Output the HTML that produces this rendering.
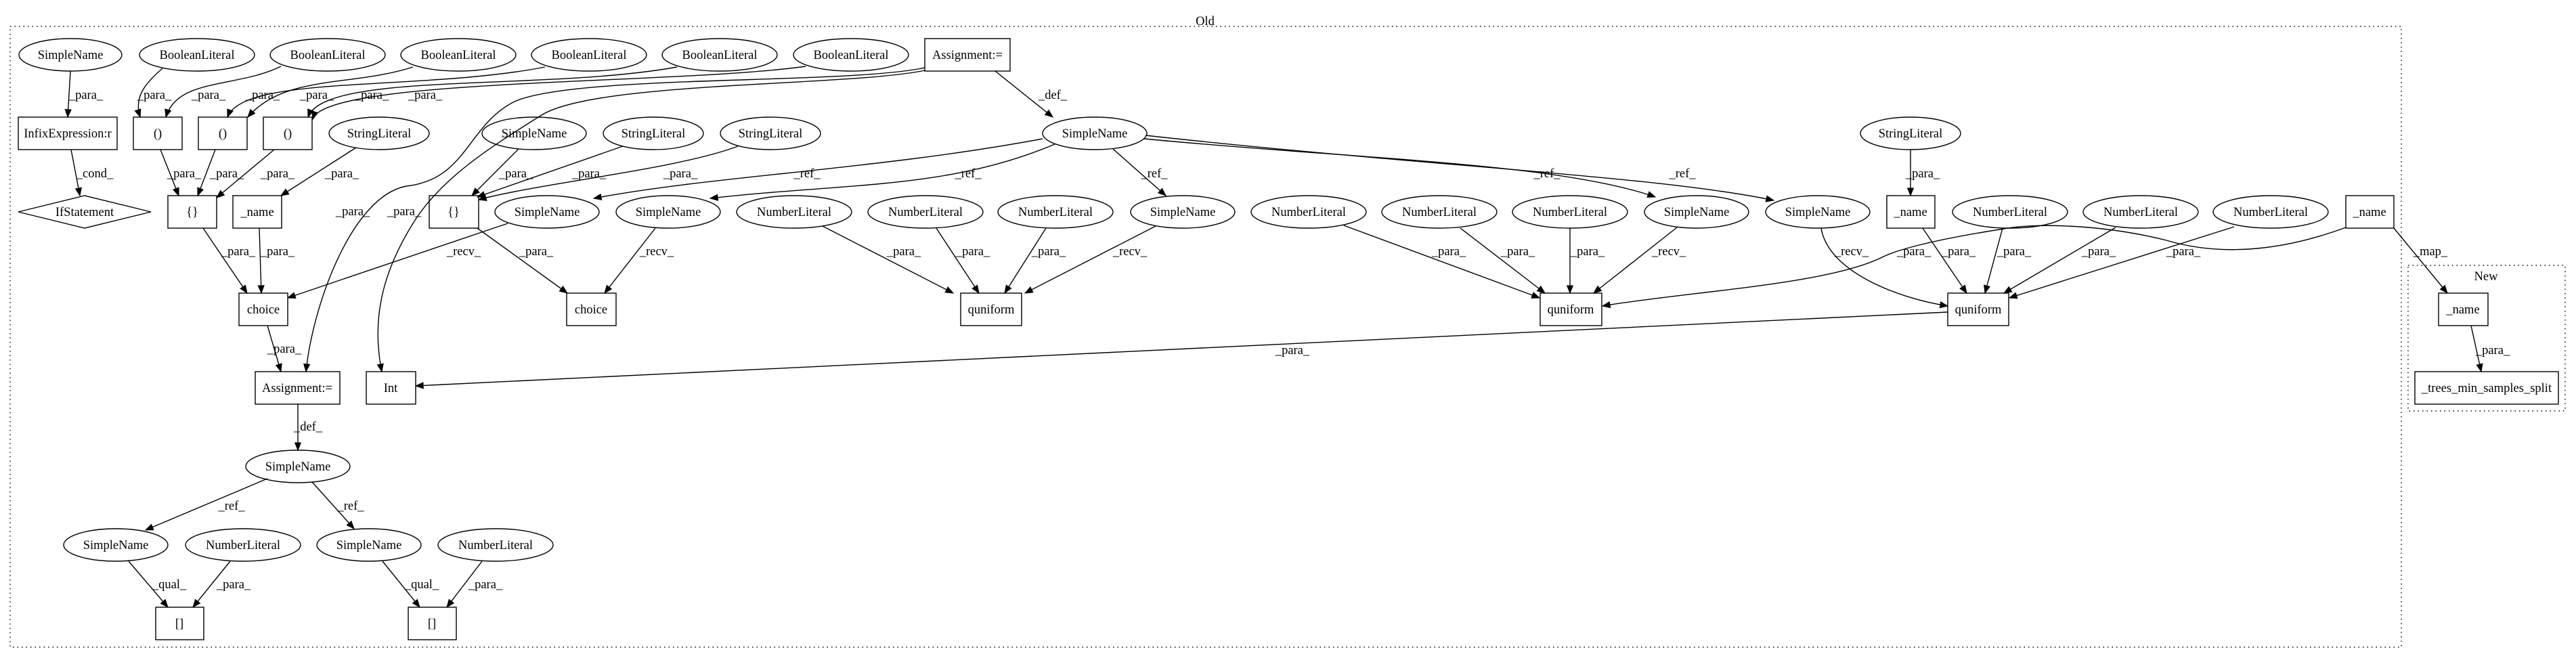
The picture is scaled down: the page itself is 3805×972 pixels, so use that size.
<!DOCTYPE html>
<html><head><meta charset="utf-8"><style>
html,body{margin:0;padding:0;background:#fff;}
svg{display:block;}
text{font-family:"Liberation Serif",serif;font-size:18.5px;fill:#000;}
.n{fill:none;stroke:#000;stroke-width:1.4;}
.e{fill:none;stroke:#000;stroke-width:1.4;}
.c{fill:none;stroke:#000;stroke-width:1.4;stroke-dasharray:1.5,5;}
</style></head><body>
<svg width="3805" height="972" viewBox="0 0 3805 972" xmlns="http://www.w3.org/2000/svg">
<defs><marker id="a" viewBox="0 0 10 10" refX="9" refY="5" markerWidth="13" markerHeight="13" markerUnits="userSpaceOnUse" orient="auto"><path d="M0,1 L10,5 L0,9 z" fill="#000"/></marker></defs>
<rect x="15" y="39" width="3532" height="917" class="c"/>
<text x="1780" y="37" text-anchor="middle">Old</text>
<rect x="3557" y="392" width="232" height="215" class="c"/>
<text x="3672" y="414" text-anchor="middle">New</text>

<g class="n">
<!-- row1 -->
<ellipse cx="104" cy="81" rx="76" ry="24"/>
<ellipse cx="291" cy="81" rx="85" ry="24"/>
<ellipse cx="484" cy="81" rx="85" ry="24"/>
<ellipse cx="677" cy="81" rx="85" ry="24"/>
<ellipse cx="870" cy="81" rx="85" ry="24"/>
<ellipse cx="1063" cy="81" rx="85" ry="24"/>
<ellipse cx="1257" cy="81" rx="85" ry="24"/>
<rect x="1366" y="57" width="126" height="48"/>
<!-- row2 -->
<rect x="27" y="173" width="146" height="48"/>
<rect x="197" y="173" width="72" height="48"/>
<rect x="293" y="173" width="72" height="48"/>
<rect x="389" y="173" width="72" height="48"/>
<ellipse cx="560" cy="197" rx="74" ry="24"/>
<ellipse cx="789" cy="197" rx="77" ry="24"/>
<ellipse cx="965" cy="197" rx="74" ry="24"/>
<ellipse cx="1138" cy="197" rx="74" ry="24"/>
<ellipse cx="1617" cy="197" rx="77" ry="24"/>
<ellipse cx="2822" cy="197" rx="74" ry="24"/>
<!-- row3 -->
<polygon points="27,313 125,289 223,313 125,337"/>
<rect x="248" y="289" width="72" height="48"/>
<rect x="344" y="289" width="72" height="48"/>
<rect x="634" y="289" width="73" height="48"/>
<ellipse cx="808" cy="313" rx="77" ry="24"/>
<ellipse cx="987" cy="313" rx="77" ry="24"/>
<ellipse cx="1173" cy="313" rx="85" ry="24"/>
<ellipse cx="1367" cy="313" rx="85" ry="24"/>
<ellipse cx="1559" cy="313" rx="85" ry="24"/>
<ellipse cx="1747" cy="313" rx="77" ry="24"/>
<ellipse cx="1933" cy="313" rx="85" ry="24"/>
<ellipse cx="2126" cy="313" rx="85" ry="24"/>
<ellipse cx="2319" cy="313" rx="85" ry="24"/>
<ellipse cx="2506" cy="313" rx="77" ry="24"/>
<ellipse cx="2685" cy="313" rx="77" ry="24"/>
<rect x="2787" y="289" width="71" height="48"/>
<ellipse cx="2969" cy="313" rx="85" ry="24"/>
<ellipse cx="3162" cy="313" rx="85" ry="24"/>
<ellipse cx="3354" cy="313" rx="85" ry="24"/>
<rect x="3465" y="289" width="71" height="48"/>
<!-- row4 -->
<rect x="353" y="433" width="72" height="48"/>
<rect x="837" y="433" width="73" height="48"/>
<rect x="1419" y="433" width="90" height="48"/>
<rect x="2275" y="433" width="91" height="48"/>
<rect x="2877" y="433" width="90" height="48"/>
<rect x="3602" y="433" width="73" height="48"/>
<!-- row5 -->
<rect x="377" y="549" width="125" height="48"/>
<rect x="541" y="549" width="73" height="48"/>
<rect x="3567" y="549" width="212" height="48"/>
<ellipse cx="440" cy="689" rx="77" ry="24"/>
<ellipse cx="171" cy="805" rx="77" ry="24"/>
<ellipse cx="359" cy="805" rx="85" ry="24"/>
<ellipse cx="545" cy="805" rx="77" ry="24"/>
<ellipse cx="732" cy="805" rx="85" ry="24"/>
<rect x="230" y="897" width="71" height="48"/>
<rect x="603" y="897" width="71" height="48"/>
</g>

<g text-anchor="middle">
<text x="104" y="87">SimpleName</text>
<text x="291" y="87">BooleanLiteral</text>
<text x="484" y="87">BooleanLiteral</text>
<text x="677" y="87">BooleanLiteral</text>
<text x="870" y="87">BooleanLiteral</text>
<text x="1063" y="87">BooleanLiteral</text>
<text x="1257" y="87">BooleanLiteral</text>
<text x="1429" y="87">Assignment:=</text>
<text x="100" y="203">InfixExpression:r</text>
<text x="233" y="203">()</text>
<text x="329" y="203">()</text>
<text x="425" y="203">()</text>
<text x="560" y="203">StringLiteral</text>
<text x="789" y="203">SimpleName</text>
<text x="965" y="203">StringLiteral</text>
<text x="1138" y="203">StringLiteral</text>
<text x="1617" y="203">SimpleName</text>
<text x="2822" y="203">StringLiteral</text>
<text x="125" y="319">IfStatement</text>
<text x="284" y="319">{}</text>
<text x="380" y="319">_name</text>
<text x="670" y="319">{}</text>
<text x="808" y="319">SimpleName</text>
<text x="987" y="319">SimpleName</text>
<text x="1173" y="319">NumberLiteral</text>
<text x="1367" y="319">NumberLiteral</text>
<text x="1559" y="319">NumberLiteral</text>
<text x="1747" y="319">SimpleName</text>
<text x="1933" y="319">NumberLiteral</text>
<text x="2126" y="319">NumberLiteral</text>
<text x="2319" y="319">NumberLiteral</text>
<text x="2506" y="319">SimpleName</text>
<text x="2685" y="319">SimpleName</text>
<text x="2822" y="319">_name</text>
<text x="2969" y="319">NumberLiteral</text>
<text x="3162" y="319">NumberLiteral</text>
<text x="3354" y="319">NumberLiteral</text>
<text x="3500" y="319">_name</text>
<text x="389" y="463">choice</text>
<text x="873" y="463">choice</text>
<text x="1464" y="463">quniform</text>
<text x="2320" y="463">quniform</text>
<text x="2922" y="463">quniform</text>
<text x="3638" y="463">_name</text>
<text x="439" y="579">Assignment:=</text>
<text x="577" y="579">Int</text>
<text x="3673" y="579">_trees_min_samples_split</text>
<text x="440" y="695">SimpleName</text>
<text x="171" y="811">SimpleName</text>
<text x="359" y="811">NumberLiteral</text>
<text x="545" y="811">SimpleName</text>
<text x="732" y="811">NumberLiteral</text>
<text x="265" y="927">[]</text>
<text x="638" y="927">[]</text>
</g>

<g class="e" marker-end="url(#a)">
<path d="M104,105 L100,173"/>
<path d="M240,101 C212,125 198,145 207,173"/>
<path d="M415,98 C350,130 262,115 245,173"/>
<path d="M610,99 C520,128 420,110 366,173"/>
<path d="M805,99 C620,135 360,110 336,173"/>
<path d="M1000,99 C800,135 480,105 455,173"/>
<path d="M1190,98 C1000,125 480,115 462,176"/>
<path d="M1366,100 C1250,125 850,110 760,150 C690,185 690,265 600,275 C520,290 462,450 452,549"/>
<path d="M1366,104 C1250,128 880,120 800,170 C720,220 650,265 610,330 C560,410 550,480 564,549"/>
<path d="M1470,105 L1555,173"/>
<path d="M105,221 L118,289"/>
<path d="M237,221 L264,289"/>
<path d="M318,221 L292,289"/>
<path d="M405,221 L320,292"/>
<path d="M526,218 L415,289"/>
<path d="M766,220 L697,289"/>
<path d="M920,216 L705,291"/>
<path d="M1090,216 C1000,250 800,270 707,295"/>
<path d="M1540,205 C1300,250 1050,260 877,293"/>
<path d="M1558,213 C1400,280 1250,270 1049,293"/>
<path d="M1644,220 L1722,289"/>
<path d="M1690,205 C2000,235 2300,240 2445,291"/>
<path d="M1692,200 C2100,245 2450,260 2620,296"/>
<path d="M2822,221 L2822,289"/>
<path d="M300,337 L365,433"/>
<path d="M383,337 L386,433"/>
<path d="M750,330 L425,440"/>
<path d="M705,337 L838,433"/>
<path d="M968,337 L893,433"/>
<path d="M1215,334 L1408,433"/>
<path d="M1383,337 L1446,433"/>
<path d="M1545,337 L1484,433"/>
<path d="M1707,334 L1514,433"/>
<path d="M1985,333 L2274,440"/>
<path d="M2157,337 L2282,433"/>
<path d="M2319,337 L2319,433"/>
<path d="M2477,336 L2354,433"/>
<path d="M3465,336 C3400,360 3300,385 3200,355 C3100,330 3000,330 2960,338 C2850,355 2800,370 2780,380 C2700,420 2500,430 2367,452"/>
<path d="M2690,337 C2700,400 2800,440 2877,452"/>
<path d="M2840,337 L2905,433"/>
<path d="M2958,337 L2932,433"/>
<path d="M3125,336 L2960,433"/>
<path d="M3300,335 L2968,440"/>
<path d="M3536,337 L3615,433"/>
<path d="M3650,481 L3665,549"/>
<path d="M2877,461 L614,570"/>
<path d="M395,481 L415,549"/>
<path d="M440,597 L440,665"/>
<path d="M395,707 L215,783"/>
<path d="M461,712 L523,781"/>
<path d="M190,829 L248,897"/>
<path d="M340,829 L285,897"/>
<path d="M565,829 L620,897"/>
<path d="M712,829 L660,897"/>
</g>

<g text-anchor="middle">
<text x="127" y="146">_para_</text>
<text x="228" y="146">_para_</text>
<text x="308" y="146">_para_</text>
<text x="388" y="146">_para_</text>
<text x="468" y="146">_para_</text>
<text x="549" y="146">_para_</text>
<text x="628" y="146">_para_</text>
<text x="1555" y="146">_def_</text>
<text x="140" y="262">_cond_</text>
<text x="272" y="262">_para_</text>
<text x="335" y="262">_para_</text>
<text x="410" y="262">_para_</text>
<text x="505" y="262">_para_</text>
<text x="521" y="318">_para_</text>
<text x="597" y="318">_para_</text>
<text x="762" y="262">_para_</text>
<text x="870" y="262">_para_</text>
<text x="1005" y="262">_para_</text>
<text x="1192" y="262">_ref_</text>
<text x="1430" y="262">_ref_</text>
<text x="1705" y="262">_ref_</text>
<text x="2285" y="262">_ref_</text>
<text x="2485" y="262">_ref_</text>
<text x="2840" y="262">_para_</text>
<text x="352" y="377">_para_</text>
<text x="410" y="377">_para_</text>
<text x="685" y="377">_recv_</text>
<text x="792" y="377">_para_</text>
<text x="970" y="377">_recv_</text>
<text x="1335" y="377">_para_</text>
<text x="1437" y="377">_para_</text>
<text x="1549" y="377">_para_</text>
<text x="1669" y="377">_recv_</text>
<text x="2140" y="377">_para_</text>
<text x="2242" y="377">_para_</text>
<text x="2345" y="377">_para_</text>
<text x="2465" y="377">_recv_</text>
<text x="2735" y="377">_recv_</text>
<text x="2827" y="377">_para_</text>
<text x="2893" y="377">_para_</text>
<text x="2975" y="377">_para_</text>
<text x="3100" y="377">_para_</text>
<text x="3225" y="377">_para_</text>
<text x="3590" y="377">_map_</text>
<text x="3682" y="523">_para_</text>
<text x="1909" y="523">_para_</text>
<text x="420" y="521">_para_</text>
<text x="455" y="636">_def_</text>
<text x="342" y="753">_ref_</text>
<text x="518" y="753">_ref_</text>
<text x="250" y="869">_qual_</text>
<text x="345" y="869">_para_</text>
<text x="623" y="869">_qual_</text>
<text x="717" y="869">_para_</text>
</g>
</svg>
</body></html>
